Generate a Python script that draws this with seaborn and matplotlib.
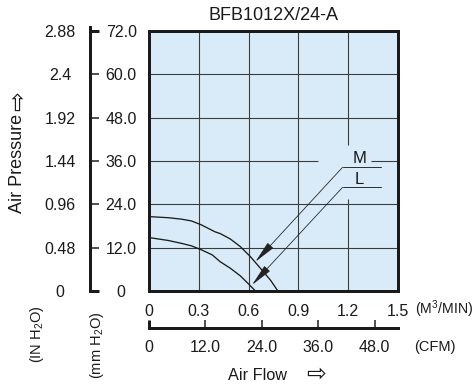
import numpy as np
import pandas as pd
import matplotlib
matplotlib.use("Agg")
import matplotlib.pyplot as plt
import seaborn as sns
from matplotlib.patches import ArrowStyle

# ---------------- data ----------------
title = "BFB1012X/24-A"
speed_names = ["M", "L"]
flow_m = [0.0, 0.115, 0.195, 0.256, 0.316, 0.397, 0.429, 0.490, 0.550, 0.611, 0.671, 0.732, 0.772, 0.776]
press_m = [20.6, 20.3, 19.9, 19.4, 18.3, 16.4, 15.9, 14.4, 12.3, 9.5, 6.3, 3.0, 0.3, 0.0]
flow_l = [0.0, 0.115, 0.195, 0.256, 0.316, 0.381, 0.429, 0.490, 0.550, 0.601, 0.641]
press_l = [14.8, 14.0, 13.2, 12.5, 11.4, 10.0, 8.1, 6.3, 4.2, 1.9, 0.0]

x_ticks_m3 = [0, 0.3, 0.6, 0.9, 1.2, 1.5]
x_labels_m3 = ["0", "0.3", "0.6", "0.9", "1.2", "1.5"]
x_ticks_cfm = [0, 12, 24, 36, 48]
x_labels_cfm = ["0", "12.0", "24.0", "36.0", "48.0"]
y_ticks_mm = [0, 12, 24, 36, 48, 60, 72]
y_labels_mm = ["0", "12.0", "24.0", "36.0", "48.0", "60.0", "72.0"]
y_ticks_in = [0, 0.48, 0.96, 1.44, 1.92, 2.4, 2.88]
y_labels_in = ["0", "0.48", "0.96", "1.44", "1.92", "2.4", "2.88"]
CFM_PER_M3MIN = 35.3147
IN_PER_MM = 0.04

# ---------------- style ----------------
sns.set_theme(style="white")
plt.rcParams["font.family"] = ["Liberation Sans", "DejaVu Sans"]
plt.rcParams["mathtext.fontset"] = "custom"
plt.rcParams["mathtext.rm"] = "Liberation Sans"

W, H = 473, 385
fig = plt.figure(figsize=(W / 100, H / 100), dpi=100)
fig.patch.set_facecolor("white")

def fx(px):
    return px / W

def fy(py):
    return 1 - py / H

PT = 72 / 100  # points per pixel
BG = "#d9ebf8"
INK = "#1a1a1a"
GRID = "#3c3c3c"

# ---------------- main axes ----------------
ax = fig.add_axes([fx(149), fy(291), 249 / W, 260 / H])
ax.set_facecolor(BG)
ax.set_xlim(0, 1.5)
ax.set_ylim(0, 72)
for s in ax.spines.values():
    s.set_visible(True)
    s.set_linewidth(3 * PT)
    s.set_color(INK)
    s.set_zorder(5)

# grid (with gaps around the M / L labels)
for xv in [0.3, 0.6, 0.9]:
    ax.vlines(xv, 0, 72, color=GRID, lw=1.1 * PT, zorder=1)
ax.vlines(1.2, 0, 25.5, color=GRID, lw=1.1 * PT, zorder=1)
ax.vlines(1.2, 40.4, 72, color=GRID, lw=1.1 * PT, zorder=1)
for yv in [12, 24, 48, 60]:
    ax.hlines(yv, 0, 1.5, color=GRID, lw=1.1 * PT, zorder=1)
ax.hlines(36, 0, 1.016, color=GRID, lw=1.1 * PT, zorder=1)
ax.hlines(36, 1.337, 1.5, color=GRID, lw=1.1 * PT, zorder=1)

df = pd.concat([
    pd.DataFrame({"flow": flow_m, "pressure": press_m, "speed": speed_names[0]}),
    pd.DataFrame({"flow": flow_l, "pressure": press_l, "speed": speed_names[1]}),
])
sns.lineplot(data=df, x="flow", y="pressure", hue="speed",
             palette={"M": INK, "L": INK}, sort=False, estimator=None,
             legend=False, lw=1.3 * PT, ax=ax, zorder=3)
ax.set_xlabel("")
ax.set_ylabel("")

ax.set_xticks(x_ticks_m3)
ax.set_xticklabels(x_labels_m3)
ax.set_yticks([])
ax.tick_params(axis="x", length=0, pad=9, labelsize=11.5, labelcolor=INK)

# M / L leader lines
astyle = ArrowStyle("-|>", head_length=0.7, head_width=0.12)
leaders = [("M", 34.25, (0.641, 8.1), 36.7), ("L", 28.7, (0.621, 1.7), 30.9)]
for name, yl, tip, ytxt in leaders:
    ax.plot([1.166, 1.397], [yl, yl], color="#333333", lw=1.0 * PT, zorder=3)
    ax.annotate("", xy=tip, xytext=(1.166, yl),
                arrowprops=dict(arrowstyle=astyle, color="#222222", lw=0.8 * PT,
                                shrinkA=0, shrinkB=0, mutation_scale=20), zorder=4)
    ax.text(1.266, ytxt, name, ha="center", va="center", fontsize=12, color=INK, zorder=4)

# ---------------- left pressure scale ----------------
top_ext = 72 * 264 / 260
axL = fig.add_axes([fx(90), fy(291), 1 / W, 264 / H])
axM = axL.twinx()  # mm scale (ticks + labels on the right of the bar)

axL.set_facecolor("none")
axL.set_ylim(0, top_ext * IN_PER_MM)
axL.set_xticks([])
for k, s in axL.spines.items():
    s.set_visible(k == "left")
axL.spines["left"].set_linewidth(3 * PT)
axL.spines["left"].set_color(INK)
axL.yaxis.set_ticks_position("left")
axL.set_yticks(y_ticks_in)
axL.set_yticklabels(y_labels_in)
axL.tick_params(axis="y", left=True, right=False, labelleft=True, labelright=False,
                length=0, pad=21.6, labelsize=11.5, labelcolor=INK)
for lbl in axL.get_yticklabels():
    lbl.set_horizontalalignment("center")

axM.set_facecolor("none")
axM.set_ylim(0, top_ext)
for s in axM.spines.values():
    s.set_visible(False)
axM.yaxis.set_ticks_position("right")
axM.set_yticks(y_ticks_mm)
axM.set_yticklabels(y_labels_mm)
axM.tick_params(axis="y", right=True, left=False, labelright=True, labelleft=False,
                direction="out", length=8 * PT, width=1.5 * PT, color=INK,
                pad=16.0, labelsize=11.5, labelcolor=INK)
for lbl in axM.get_yticklabels():
    lbl.set_horizontalalignment("center")
ticks = axM.yaxis.get_major_ticks()
for t in (ticks[0], ticks[-1]):
    t.tick2line.set_markeredgewidth(3 * PT)

# ---------------- bottom CFM scale ----------------
axB = fig.add_axes([fx(149), fy(328), 249 / W, 1 / H])
axB.set_facecolor("none")
axB.set_xlim(0, 1.5 * CFM_PER_M3MIN)
axB.set_yticks([])
for k, s in axB.spines.items():
    s.set_visible(k == "bottom")
axB.spines["bottom"].set_linewidth(3 * PT)
axB.spines["bottom"].set_color(INK)
axB.set_xticks(x_ticks_cfm)
axB.set_xticklabels(x_labels_cfm)
axB.tick_params(axis="x", bottom=True, direction="in", length=8 * PT, width=1.5 * PT,
                color=INK, pad=8.5, labelsize=11.5, labelcolor=INK)
axB.xaxis.get_major_ticks()[0].tick1line.set_markeredgewidth(3 * PT)

# ---------------- texts ----------------
fig.text(fx(273), fy(15), title, ha="center", va="center", fontsize=13, color=INK)
fig.text(fx(415), fy(309), r"(M$\mathregular{^3}$/MIN)", ha="left", va="center",
         fontsize=10.2, color=INK)
fig.text(fx(435), fy(347), "(CFM)", ha="center", va="center", fontsize=10.5, color=INK)
fig.text(fx(257), fy(375), "Air Flow", ha="center", va="center", fontsize=11.7, color=INK)
fig.text(fx(316), fy(374), "\u21e8", ha="center", va="center", fontsize=17,
         color=INK, family=["DejaVu Sans"])
fig.text(fx(18), fy(163), "Air Pressure", ha="center", va="center", rotation=90,
         fontsize=13, color=INK)
fig.text(fx(18), fy(101), "\u21e8", ha="center", va="center", rotation=90,
         fontsize=17, color=INK, family=["DejaVu Sans"])
fig.text(fx(36.5), fy(334), r"(IN H$\mathregular{_2}$O)", ha="center", va="center",
         rotation=90, fontsize=10.5, color=INK)
fig.text(fx(96.5), fy(345), r"(mm H$\mathregular{_2}$O)", ha="center", va="center",
         rotation=90, fontsize=10.5, color=INK)

fig.savefig("out.png", dpi=100)
